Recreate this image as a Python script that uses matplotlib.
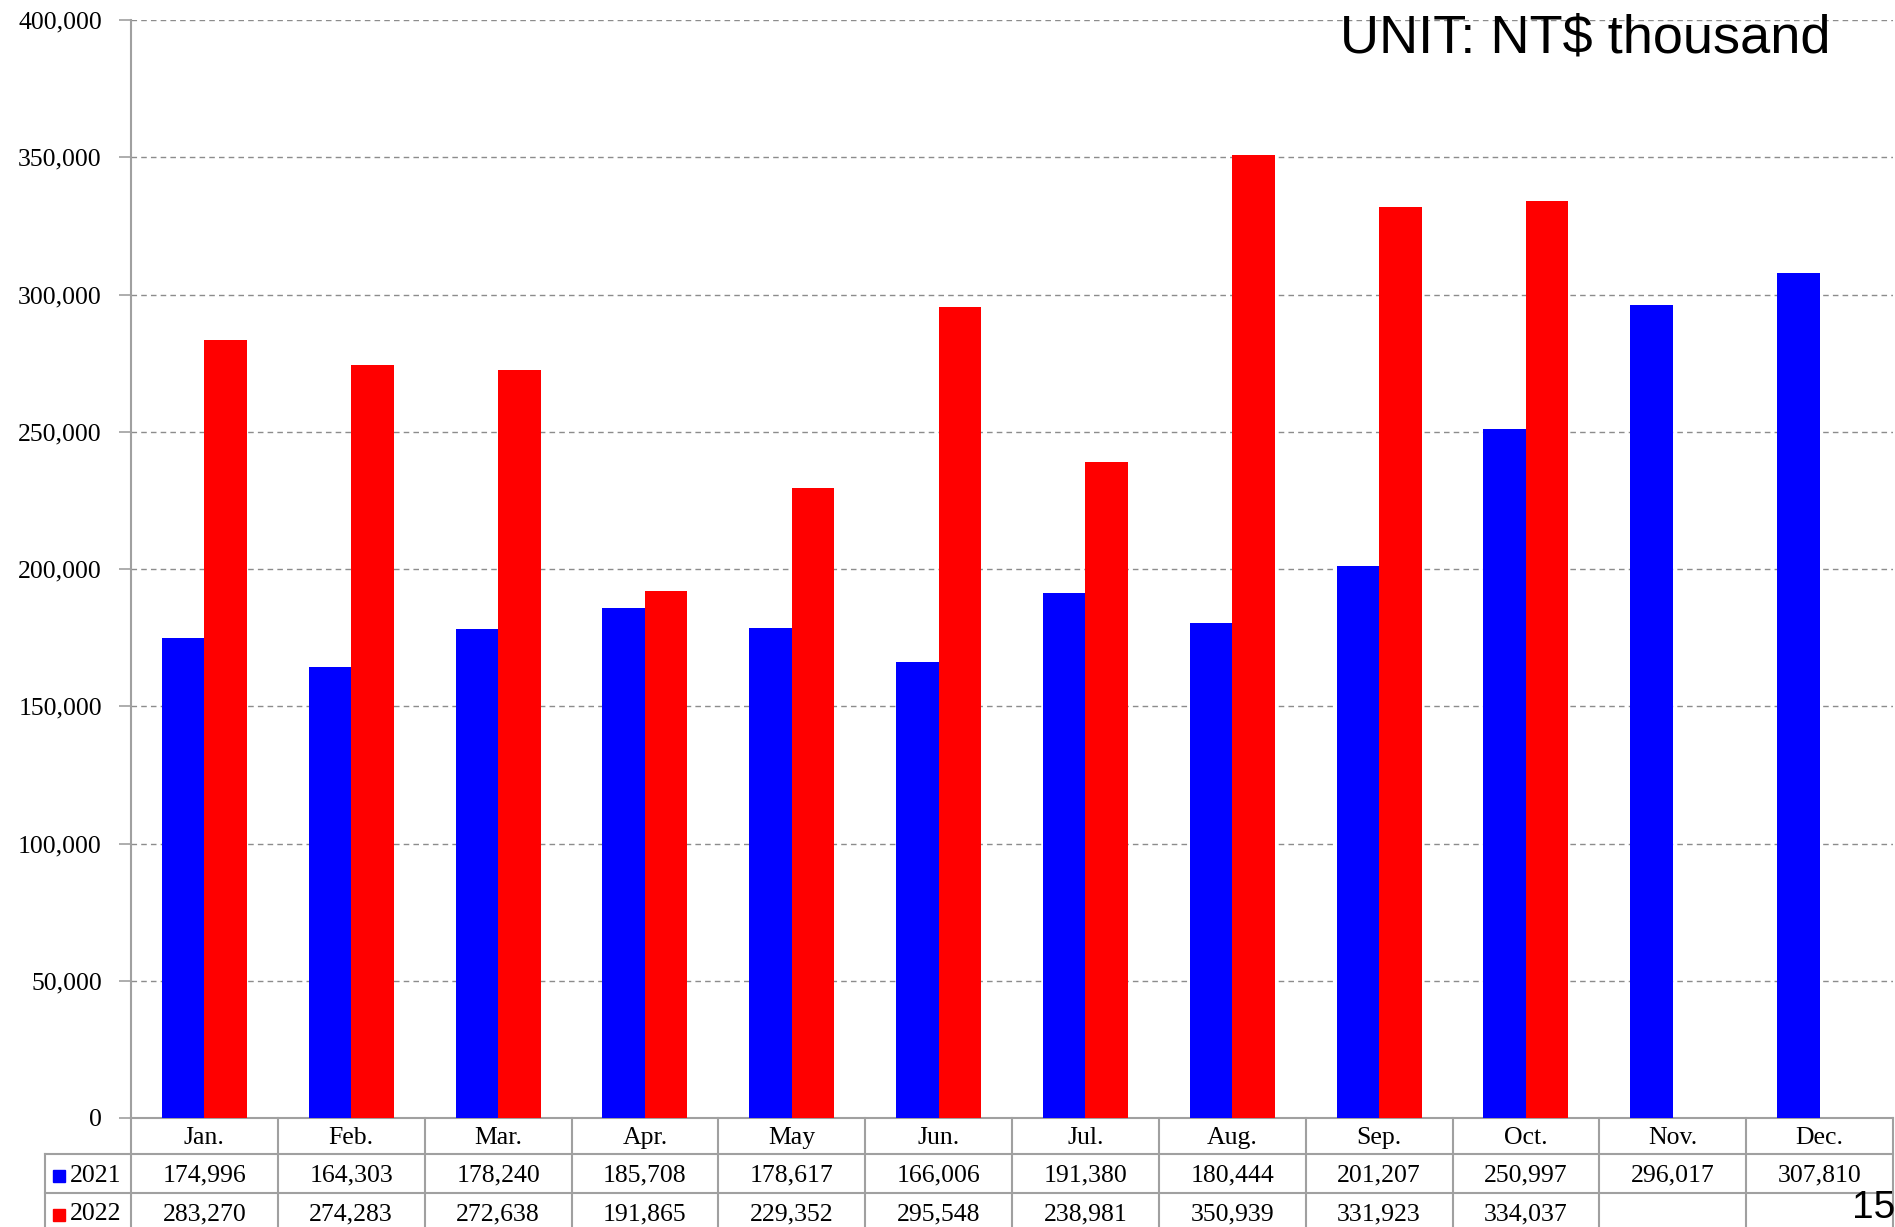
import numpy as np
import matplotlib.pyplot as plt
import matplotlib.transforms as mtransforms
from matplotlib.lines import Line2D
from matplotlib.patches import Rectangle
from matplotlib.ticker import FuncFormatter, MultipleLocator

months = ['Jan.', 'Feb.', 'Mar.', 'Apr.', 'May', 'Jun.', 'Jul.', 'Aug.', 'Sep.', 'Oct.', 'Nov.', 'Dec.']
sales_2021 = [174996, 164303, 178240, 185708, 178617, 166006, 191380, 180444, 201207, 250997, 296017, 307810]
sales_2022 = [283270, 274283, 272638, 191865, 229352, 295548, 238981, 350939, 331923, 334037]
series_names = ['2021', '2022']
series_colors = ['#0000FF', '#FF0000']

W, H = 1895, 1227
ax_l, ax_r, ax_t, ax_b = 131, 1893, 20, 1118
grid_c = '#A0A0A0'
serif = 'Liberation Serif'
fs = 18.5

fig = plt.figure(figsize=(W / 100, H / 100), dpi=100)
ax = fig.add_axes([ax_l / W, 1 - ax_b / H, (ax_r - ax_l) / W, (ax_b - ax_t) / H])

x = np.arange(len(months))
bw = 0.29
ax.bar(x - bw / 2, sales_2021, bw, color=series_colors[0], edgecolor='none', zorder=3)
ax.bar(x[:len(sales_2022)] + bw / 2, sales_2022, bw, color=series_colors[1], edgecolor='none', zorder=3)

ax.set_xlim(-0.5, len(months) - 0.5)
ax.set_ylim(0, 400000)
ax.yaxis.set_major_locator(MultipleLocator(50000))
ax.yaxis.set_major_formatter(FuncFormatter(lambda v, p: f'{int(v):,}'))
ax.grid(axis='y', color='#8C8C8C', linestyle=(0, (4, 3)), linewidth=1, zorder=0)
ax.set_xticks([])
ax.tick_params(axis='y', length=9, color=grid_c, width=1.2, pad=12, labelsize=fs)
for lab in ax.get_yticklabels():
    lab.set_fontfamily(serif)
for s in ['top', 'right']:
    ax.spines[s].set_visible(False)
for s in ['left', 'bottom']:
    ax.spines[s].set_color(grid_c)
    ax.spines[s].set_linewidth(1.5)

# data table under the axis
def fy(py):
    return 1 - py / H

def fx(px):
    return px / W

row_y = [ax_b, 1154, 1193, 1232]
leg_l = 45
lines = []
lines.append(([leg_l, ax_r], [row_y[1], row_y[1]]))
lines.append(([leg_l, ax_r], [row_y[2], row_y[2]]))
lines.append(([leg_l, leg_l], [row_y[1], row_y[3]]))
col_w = (ax_r - ax_l) / len(months)
for i in range(len(months) + 1):
    xp = ax_l + i * col_w
    lines.append(([xp, xp], [ax_b, row_y[3]]))
for xs, ys in lines:
    fig.add_artist(Line2D([fx(v) for v in xs], [fy(v) for v in ys], color=grid_c, linewidth=1.5))

trans = mtransforms.blended_transform_factory(ax.transData, fig.transFigure)
mid = [(row_y[i] + row_y[i + 1]) / 2 + 2 for i in range(3)]
for i, m in enumerate(months):
    fig.text(x[i], fy(mid[0]), m, transform=trans, ha='center', va='center', fontsize=fs, family=serif)
for i, v in enumerate(sales_2021):
    fig.text(x[i], fy(mid[1]), f'{v:,}', transform=trans, ha='center', va='center', fontsize=fs, family=serif)
for i, v in enumerate(sales_2022):
    fig.text(x[i], fy(mid[2]), f'{v:,}', transform=trans, ha='center', va='center', fontsize=fs, family=serif)

for k, (name, c) in enumerate(zip(series_names, series_colors)):
    yc = mid[k + 1]
    fig.add_artist(Rectangle((fx(53), fy(yc + 6)), 12 / W, 12 / H, color=c, transform=fig.transFigure))
    fig.text(fx(70), fy(yc), name, ha='left', va='center', fontsize=fs, family=serif)

fig.text(fx(1585), fy(38), 'UNIT: NT$ thousand', ha='center', va='center', fontsize=39, family='Liberation Sans')
fig.text(fx(1852), fy(1208), '15', ha='left', va='center', fontsize=28, family='Liberation Sans')

fig.savefig('out.png', dpi=100)
